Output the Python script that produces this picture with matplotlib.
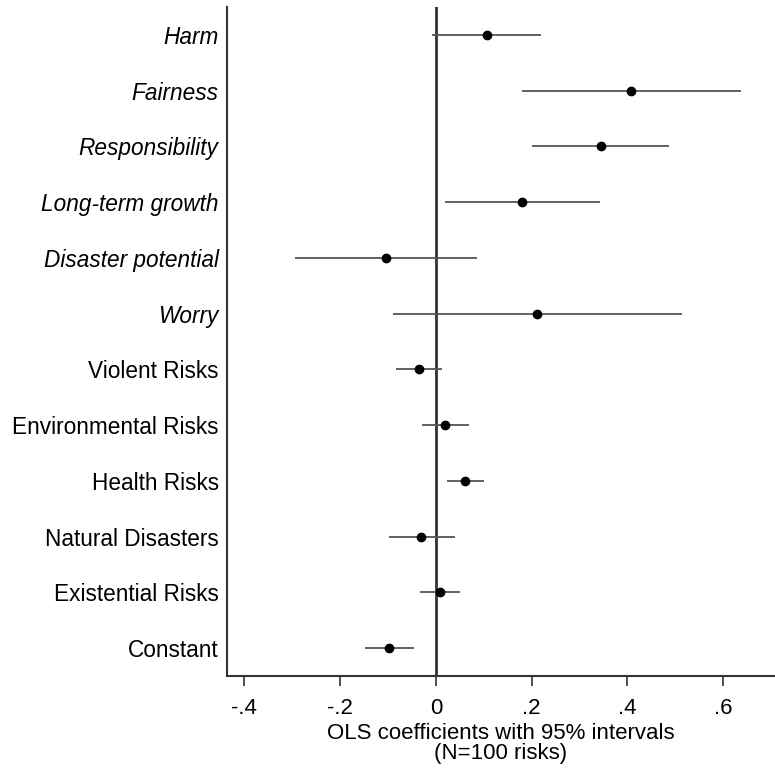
import matplotlib.pyplot as plt

plt.rcParams['font.family'] = ['Liberation Sans', 'DejaVu Sans']

# labels, top to bottom
labels = ['Harm', 'Fairness', 'Responsibility', 'Long-term growth',
          'Disaster potential', 'Worry', 'Violent Risks', 'Environmental Risks',
          'Health Risks', 'Natural Disasters', 'Existential Risks', 'Constant']
italic = [True, True, True, True, True, True, False, False, False, False, False, False]

coef = [0.106, 0.408, 0.344, 0.180, -0.104, 0.211, -0.035, 0.020, 0.061, -0.030, 0.008, -0.097]
ci_low = [-0.008, 0.179, 0.201, 0.019, -0.295, -0.090, -0.083, -0.029, 0.023, -0.097, -0.033, -0.148]
ci_high = [0.220, 0.638, 0.486, 0.343, 0.086, 0.513, 0.013, 0.069, 0.100, 0.039, 0.050, -0.046]

xticks = [-0.4, -0.2, 0, 0.2, 0.4, 0.6]
xticklabels = ['-.4', '-.2', '0', '.2', '.4', '.6']

fig = plt.figure(figsize=(7.75, 7.69), dpi=100)
ax = fig.add_axes([0.2929, 0.1209, 0.7071, 0.87])

ypos = list(range(1, len(labels) + 1))

ax.axvline(0, color='#333333', lw=2.0, zorder=1)
ax.hlines(ypos, ci_low, ci_high, color='#555555', lw=1.3, zorder=2)
ax.plot(coef, ypos, 'o', color='black', ms=6, zorder=3)

ax.set_ylim(len(labels) + 0.5, 0.5)
ax.set_xlim(-0.436, 0.708)
ax.set_yticks(ypos)
ax.set_yticklabels(labels, fontsize=16.3)
for t, it in zip(ax.get_yticklabels(), italic):
    if it:
        t.set_style('italic')
ax.tick_params(axis='y', length=0, pad=6)

ax.set_xticks(xticks)
ax.set_xticklabels(xticklabels, fontsize=16)
ax.tick_params(axis='x', length=7, width=1.2, color='#333333', pad=9)

ax.set_xlabel('OLS coefficients with 95% intervals\n(N=100 risks)', fontsize=16,
              linespacing=0.9, labelpad=3)

ax.spines['top'].set_visible(False)
ax.spines['right'].set_visible(False)
ax.spines['left'].set_color('#333333')
ax.spines['bottom'].set_color('#333333')
ax.spines['left'].set_linewidth(1.5)
ax.spines['bottom'].set_linewidth(1.5)

fig.savefig('out.png', dpi=100)
